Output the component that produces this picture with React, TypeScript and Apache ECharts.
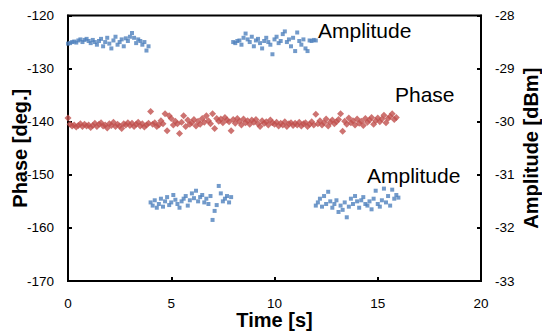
import React, { useEffect, useRef } from "react";
import * as echarts from "echarts";

// ---- data ----
const TIME_STEP = 0.1; // s between samples

const xTicks = { min: 0, max: 20, interval: 5 };
const phaseAxis = { min: -170, max: -120, interval: 10 };
const ampAxis = { min: -33, max: -28, interval: 1 };

// Amplitude [dBm], four bursts
const ampTop1Start = 0.0;
const ampTop1 = [-28.53, -28.52, -28.5, -28.49, -28.51, -28.47, -28.45, -28.5, -28.46, -28.44, -28.48, -28.52, -28.46, -28.5, -28.55, -28.48, -28.44, -28.58, -28.5, -28.42, -28.53, -28.62, -28.47, -28.4, -28.55, -28.5, -28.45, -28.58, -28.43, -28.48, -28.4, -28.33, -28.42, -28.52, -28.45, -28.48, -28.55, -28.5, -28.66, -28.58];
const ampBot1Start = 4.0;
const ampBot1 = [-31.52, -31.58, -31.48, -31.62, -31.55, -31.45, -31.6, -31.5, -31.42, -31.57, -31.52, -31.38, -31.47, -31.55, -31.62, -31.5, -31.45, -31.4, -31.58, -31.48, -31.35, -31.44, -31.3, -31.5, -31.42, -31.38, -31.52, -31.45, -31.55, -31.4, -31.85, -31.68, -31.57, -31.21, -31.35, -31.5, -31.45, -31.4, -31.52, -31.42];
const ampTop2Start = 8.0;
const ampTop2 = [-28.5, -28.52, -28.48, -28.47, -28.55, -28.42, -28.34, -28.45, -28.5, -28.4, -28.58, -28.47, -28.44, -28.52, -28.62, -28.48, -28.42, -28.5, -28.55, -28.73, -28.45, -28.4, -28.52, -28.48, -28.35, -28.3, -28.5, -28.45, -28.58, -28.42, -28.67, -28.32, -28.48, -28.55, -28.45, -28.62, -28.67, -28.47, -28.48, -28.46, -28.47];
const ampBot2Start = 12.0;
const ampBot2 = [-31.58, -31.52, -31.45, -31.6, -31.4, -31.55, -31.32, -31.5, -31.62, -31.55, -31.48, -31.7, -31.58, -31.66, -31.52, -31.8, -31.6, -31.45, -31.55, -31.4, -31.5, -31.62, -31.48, -31.42, -31.55, -31.58, -31.5, -31.65, -31.45, -31.3, -31.55, -31.6, -31.48, -31.26, -31.52, -31.4, -31.58, -31.28, -31.45, -31.38, -31.43];

// Phase [deg.]
const phaseStart = 0.0;
const phase = [
  -139.3, -140.5, -140.8, -140.6, -141.0, -140.7, -140.4, -140.9, -140.5, -140.8,
  -140.6, -141.1, -140.7, -140.3, -140.9, -140.5, -140.2, -140.8, -140.6, -141.2,
  -140.4, -140.7, -140.1, -140.9, -140.5, -140.8, -141.3, -140.4, -140.6, -140.2,
  -140.7, -140.3, -140.9, -140.5, -140.1, -140.8, -140.4, -141.0, -140.6, -140.3,
  -138.1, -140.5, -140.2, -140.9, -140.6, -139.8, -140.4, -138.5, -141.7, -138.9,
  -139.4, -140.6, -139.9, -140.4, -142.2, -140.1, -138.9, -140.9, -139.7, -140.5,
  -140.2, -139.6, -140.8, -139.9, -140.5, -139.4, -140.1, -138.9, -139.8, -140.4,
  -138.5, -141.3, -139.4, -139.9, -139.5, -140.2, -139.2, -139.7, -140.0, -141.7,
  -139.6, -140.3, -139.4, -139.9, -140.6, -139.5, -140.2, -139.8, -140.5, -139.7,
  -140.1, -139.6, -140.4, -140.9, -139.8, -140.3, -140.0, -140.6, -139.7, -140.2,
  -140.5, -140.1, -140.8, -140.3, -140.6, -140.0, -140.9, -140.4, -140.2, -140.7,
  -140.3, -140.6, -140.1, -140.8, -140.4, -140.2, -140.9, -140.5, -140.0, -140.6,
  -138.6, -140.4, -139.8, -140.6, -140.2, -139.5, -140.8, -140.1, -139.7, -140.4,
  -140.0, -139.6, -138.5, -141.8, -139.9, -140.5, -139.3, -140.2, -139.8, -140.6,
  -139.5, -140.3, -139.9, -140.7, -139.4, -140.1, -139.7, -139.2, -140.5, -139.8,
  -139.3, -140.0, -139.5, -138.8, -140.2, -139.4, -139.0, -138.5, -139.6, -139.2,
];

const annotations = [
  { text: "Amplitude", x: 318, y: 30 },
  { text: "Phase", x: 395, y: 94 },
  { text: "Amplitude", x: 367, y: 175 },
];

const toPoints = (start: number, vals: number[]) =>
  vals.map((v, i) => [Math.round((start + i * TIME_STEP) * 100) / 100, v]);

const FONT = "'Liberation Sans', Arial, sans-serif";

export default function App() {
  const ref = useRef<HTMLDivElement>(null);
  useEffect(() => {
    const chart = echarts.init(ref.current!, null, { renderer: "svg" });
    const ampData = [
      ...toPoints(ampTop1Start, ampTop1),
      ...toPoints(ampBot1Start, ampBot1),
      ...toPoints(ampTop2Start, ampTop2),
      ...toPoints(ampBot2Start, ampBot2),
    ];
    const phaseData = toPoints(phaseStart, phase);
    const axisLabel = { color: "#000", fontSize: 13.5, fontFamily: FONT, margin: 14 };
    const nameStyle = { color: "#000", fontSize: 20, fontWeight: "bold" as const, fontFamily: FONT };
    chart.setOption({
      animation: false,
      backgroundColor: "#fff",
      grid: { left: 68, right: 61, top: 15.5, bottom: 50, show: true, borderColor: "#000", borderWidth: 2, containLabel: false, outerBoundsMode: "none" },
      xAxis: {
        type: "value",
        min: xTicks.min,
        max: xTicks.max,
        interval: xTicks.interval,
        name: "Time [s]",
        nameLocation: "middle",
        nameGap: 29,
        nameMoveOverlap: false,
        nameTextStyle: nameStyle,
        axisLine: { show: true, lineStyle: { color: "#000", width: 2 } },
        axisTick: { show: true, inside: true, length: 4, lineStyle: { color: "#000", width: 2 } },
        axisLabel: { ...axisLabel, margin: 15 },
        splitLine: { show: false },
      },
      yAxis: [
        {
          type: "value",
          min: phaseAxis.min,
          max: phaseAxis.max,
          interval: phaseAxis.interval,
          name: "Phase [deg.]",
          nameLocation: "middle",
          nameGap: 38,
          nameMoveOverlap: false,
          nameTextStyle: nameStyle,
          axisLine: { show: true, lineStyle: { color: "#000", width: 2 } },
          axisTick: { show: true, inside: true, length: 4, lineStyle: { color: "#000", width: 2 } },
          axisLabel,
          splitLine: { show: false },
        },
        {
          type: "value",
          position: "right",
          min: ampAxis.min,
          max: ampAxis.max,
          interval: ampAxis.interval,
          name: "Amplitude [dBm]",
          nameLocation: "middle",
          nameGap: 40,
          nameRotate: 90,
          nameMoveOverlap: false,
          nameTextStyle: nameStyle,
          axisLine: { show: true, lineStyle: { color: "#000", width: 2 } },
          axisTick: { show: true, inside: true, length: 4, lineStyle: { color: "#000", width: 2 } },
          axisLabel,
          splitLine: { show: false },
        },
      ],
      series: [
        {
          name: "Phase",
          type: "scatter",
          yAxisIndex: 0,
          symbol: "diamond",
          symbolSize: 7,
          itemStyle: { color: "#C0504D" },
          data: phaseData,
        },
        {
          name: "Amplitude",
          type: "scatter",
          yAxisIndex: 1,
          symbol: "rect",
          symbolSize: 4,
          itemStyle: { color: "#4F81BD" },
          data: ampData,
        },
      ],
      graphic: annotations.map((a) => ({
        type: "text",
        x: a.x,
        y: a.y,
        style: { text: a.text, fill: "#000", fontSize: 21, fontFamily: FONT, textAlign: "left", textVerticalAlign: "middle" },
      })),
    });
    return () => chart.dispose();
  }, []);
  return <div ref={ref} style={{ position: "absolute", left: 0, top: 0, width: 542, height: 331 }} />;
}
